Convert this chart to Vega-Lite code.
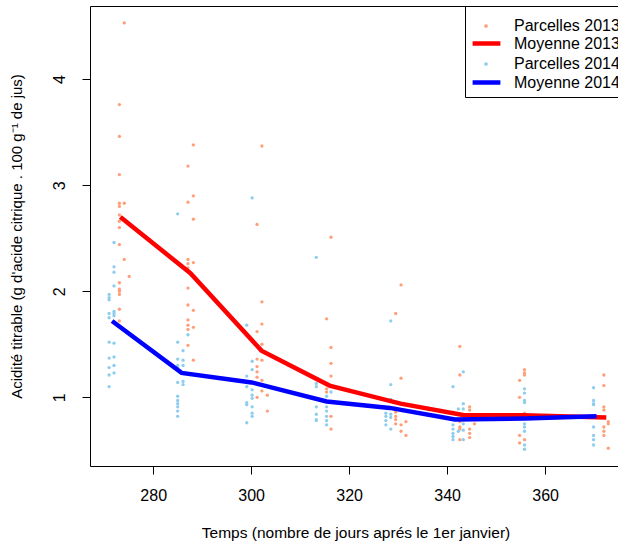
{
  "$schema": "https://vega.github.io/schema/vega-lite/v6.json",
  "width": 531,
  "height": 460,
  "autosize": "none",
  "padding": {"left": 90, "top": 6, "right": 0, "bottom": 80},
  "background": "white",
  "config": {
    "font": "Liberation Sans",
    "view": {"stroke": "#000", "strokeWidth": 1},
    "axis": {"grid": false, "domain": false, "tickColor": "#000", "tickSize": 8, "labelFontSize": 16, "labelColor": "#000", "titleFontSize": 15.5, "titleFontWeight": "normal", "titleColor": "#000", "labelFont": "Liberation Sans", "titleFont": "Liberation Sans"},
    "legend": {"labelFont": "Liberation Sans", "labelFontSize": 16, "labelColor": "#000", "titleFont": "Liberation Sans"}
  },
  "datasets": {
    "pts": [
      {"d": 274.1, "v": 4.53, "s": "Parcelles 2013"}, {"d": 273.1, "v": 3.76, "s": "Parcelles 2013"}, {"d": 273.1, "v": 3.46, "s": "Parcelles 2013"}, {"d": 273.1, "v": 3.10, "s": "Parcelles 2013"}, {"d": 273.1, "v": 2.83, "s": "Parcelles 2013"}, {"d": 273.1, "v": 2.80, "s": "Parcelles 2013"}, {"d": 274.1, "v": 2.83, "s": "Parcelles 2013"}, {"d": 273.1, "v": 2.72, "s": "Parcelles 2013"}, {"d": 273.1, "v": 2.66, "s": "Parcelles 2013"}, {"d": 273.1, "v": 2.60, "s": "Parcelles 2013"}, {"d": 273.1, "v": 2.44, "s": "Parcelles 2013"}, {"d": 274.1, "v": 2.30, "s": "Parcelles 2013"}, {"d": 275.1, "v": 2.14, "s": "Parcelles 2013"}, {"d": 273.1, "v": 2.08, "s": "Parcelles 2013"}, {"d": 273.1, "v": 2.02, "s": "Parcelles 2013"}, {"d": 273.1, "v": 2.00, "s": "Parcelles 2013"}, {"d": 273.1, "v": 1.97, "s": "Parcelles 2013"}, {"d": 273.1, "v": 1.83, "s": "Parcelles 2013"}, {"d": 273.1, "v": 1.72, "s": "Parcelles 2013"},
      {"d": 288.2, "v": 3.38, "s": "Parcelles 2013"}, {"d": 287.1, "v": 3.18, "s": "Parcelles 2013"}, {"d": 288.2, "v": 2.90, "s": "Parcelles 2013"}, {"d": 287.1, "v": 2.84, "s": "Parcelles 2013"}, {"d": 288.2, "v": 2.68, "s": "Parcelles 2013"}, {"d": 287.1, "v": 2.30, "s": "Parcelles 2013"}, {"d": 287.1, "v": 2.26, "s": "Parcelles 2013"}, {"d": 287.1, "v": 2.22, "s": "Parcelles 2013"}, {"d": 288.2, "v": 2.27, "s": "Parcelles 2013"}, {"d": 288.2, "v": 2.14, "s": "Parcelles 2013"}, {"d": 287.1, "v": 2.03, "s": "Parcelles 2013"}, {"d": 287.1, "v": 1.87, "s": "Parcelles 2013"}, {"d": 288.2, "v": 1.82, "s": "Parcelles 2013"}, {"d": 287.1, "v": 1.73, "s": "Parcelles 2013"}, {"d": 287.1, "v": 1.68, "s": "Parcelles 2013"}, {"d": 287.1, "v": 1.64, "s": "Parcelles 2013"}, {"d": 288.2, "v": 1.66, "s": "Parcelles 2013"}, {"d": 287.1, "v": 1.49, "s": "Parcelles 2013"}, {"d": 288.2, "v": 1.35, "s": "Parcelles 2013"},
      {"d": 302.2, "v": 3.37, "s": "Parcelles 2013"}, {"d": 301.2, "v": 2.63, "s": "Parcelles 2013"}, {"d": 302.2, "v": 1.90, "s": "Parcelles 2013"}, {"d": 302.2, "v": 1.69, "s": "Parcelles 2013"}, {"d": 301.2, "v": 1.62, "s": "Parcelles 2013"}, {"d": 302.2, "v": 1.50, "s": "Parcelles 2013"}, {"d": 301.2, "v": 1.36, "s": "Parcelles 2013"}, {"d": 302.2, "v": 1.35, "s": "Parcelles 2013"}, {"d": 301.2, "v": 1.29, "s": "Parcelles 2013"}, {"d": 301.2, "v": 1.24, "s": "Parcelles 2013"}, {"d": 301.2, "v": 1.19, "s": "Parcelles 2013"}, {"d": 302.2, "v": 1.16, "s": "Parcelles 2013"}, {"d": 302.2, "v": 1.06, "s": "Parcelles 2013"}, {"d": 301.2, "v": 1.00, "s": "Parcelles 2013"}, {"d": 303.3, "v": 1.02, "s": "Parcelles 2013"}, {"d": 303.3, "v": 0.87, "s": "Parcelles 2013"},
      {"d": 316.3, "v": 2.51, "s": "Parcelles 2013"}, {"d": 315.4, "v": 1.74, "s": "Parcelles 2013"}, {"d": 316.3, "v": 1.47, "s": "Parcelles 2013"}, {"d": 316.3, "v": 1.32, "s": "Parcelles 2013"}, {"d": 316.3, "v": 1.20, "s": "Parcelles 2013"}, {"d": 315.4, "v": 1.08, "s": "Parcelles 2013"}, {"d": 315.4, "v": 1.05, "s": "Parcelles 2013"}, {"d": 316.3, "v": 0.82, "s": "Parcelles 2013"}, {"d": 316.3, "v": 0.70, "s": "Parcelles 2013"},
      {"d": 330.6, "v": 2.06, "s": "Parcelles 2013"}, {"d": 329.5, "v": 1.79, "s": "Parcelles 2013"}, {"d": 330.6, "v": 1.18, "s": "Parcelles 2013"}, {"d": 329.5, "v": 0.90, "s": "Parcelles 2013"}, {"d": 329.5, "v": 0.86, "s": "Parcelles 2013"}, {"d": 329.5, "v": 0.82, "s": "Parcelles 2013"}, {"d": 329.5, "v": 0.79, "s": "Parcelles 2013"}, {"d": 329.5, "v": 0.75, "s": "Parcelles 2013"}, {"d": 330.6, "v": 0.74, "s": "Parcelles 2013"}, {"d": 330.6, "v": 0.68, "s": "Parcelles 2013"}, {"d": 331.6, "v": 0.77, "s": "Parcelles 2013"}, {"d": 331.6, "v": 0.64, "s": "Parcelles 2013"},
      {"d": 342.6, "v": 1.48, "s": "Parcelles 2013"}, {"d": 342.6, "v": 1.21, "s": "Parcelles 2013"}, {"d": 344.6, "v": 0.91, "s": "Parcelles 2013"}, {"d": 344.6, "v": 0.88, "s": "Parcelles 2013"}, {"d": 342.6, "v": 0.77, "s": "Parcelles 2013"}, {"d": 342.6, "v": 0.72, "s": "Parcelles 2013"}, {"d": 342.6, "v": 0.70, "s": "Parcelles 2013"}, {"d": 344.6, "v": 0.70, "s": "Parcelles 2013"}, {"d": 344.6, "v": 0.66, "s": "Parcelles 2013"}, {"d": 344.6, "v": 0.62, "s": "Parcelles 2013"}, {"d": 345.6, "v": 0.75, "s": "Parcelles 2013"}, {"d": 342.6, "v": 0.60, "s": "Parcelles 2013"},
      {"d": 355.8, "v": 1.26, "s": "Parcelles 2013"}, {"d": 355.8, "v": 1.23, "s": "Parcelles 2013"}, {"d": 355.8, "v": 1.21, "s": "Parcelles 2013"}, {"d": 354.8, "v": 1.16, "s": "Parcelles 2013"}, {"d": 354.8, "v": 1.00, "s": "Parcelles 2013"}, {"d": 355.8, "v": 0.85, "s": "Parcelles 2013"}, {"d": 354.8, "v": 0.64, "s": "Parcelles 2013"}, {"d": 355.8, "v": 0.60, "s": "Parcelles 2013"}, {"d": 354.8, "v": 0.57, "s": "Parcelles 2013"},
      {"d": 372.0, "v": 1.21, "s": "Parcelles 2013"}, {"d": 372.0, "v": 1.11, "s": "Parcelles 2013"}, {"d": 372.0, "v": 0.91, "s": "Parcelles 2013"}, {"d": 372.0, "v": 0.88, "s": "Parcelles 2013"}, {"d": 372.9, "v": 0.77, "s": "Parcelles 2013"}, {"d": 372.9, "v": 0.75, "s": "Parcelles 2013"}, {"d": 372.0, "v": 0.72, "s": "Parcelles 2013"}, {"d": 372.0, "v": 0.68, "s": "Parcelles 2013"}, {"d": 372.0, "v": 0.64, "s": "Parcelles 2013"}, {"d": 372.9, "v": 0.52, "s": "Parcelles 2013"},
      {"d": 272.0, "v": 2.46, "s": "Parcelles 2014"}, {"d": 272.0, "v": 2.23, "s": "Parcelles 2014"}, {"d": 272.0, "v": 2.18, "s": "Parcelles 2014"}, {"d": 272.0, "v": 2.05, "s": "Parcelles 2014"}, {"d": 271.0, "v": 1.97, "s": "Parcelles 2014"}, {"d": 271.0, "v": 1.94, "s": "Parcelles 2014"}, {"d": 271.0, "v": 1.92, "s": "Parcelles 2014"}, {"d": 272.0, "v": 1.81, "s": "Parcelles 2014"}, {"d": 272.0, "v": 1.79, "s": "Parcelles 2014"}, {"d": 272.0, "v": 1.77, "s": "Parcelles 2014"}, {"d": 271.0, "v": 1.79, "s": "Parcelles 2014"}, {"d": 271.0, "v": 1.75, "s": "Parcelles 2014"}, {"d": 271.0, "v": 1.52, "s": "Parcelles 2014"}, {"d": 272.0, "v": 1.51, "s": "Parcelles 2014"}, {"d": 271.0, "v": 1.37, "s": "Parcelles 2014"}, {"d": 272.0, "v": 1.38, "s": "Parcelles 2014"}, {"d": 271.0, "v": 1.28, "s": "Parcelles 2014"}, {"d": 272.0, "v": 1.30, "s": "Parcelles 2014"}, {"d": 271.0, "v": 1.21, "s": "Parcelles 2014"}, {"d": 272.0, "v": 1.23, "s": "Parcelles 2014"}, {"d": 271.0, "v": 1.10, "s": "Parcelles 2014"},
      {"d": 285.0, "v": 2.73, "s": "Parcelles 2014"}, {"d": 287.1, "v": 1.59, "s": "Parcelles 2014"}, {"d": 285.0, "v": 1.52, "s": "Parcelles 2014"}, {"d": 286.1, "v": 1.44, "s": "Parcelles 2014"}, {"d": 285.0, "v": 1.36, "s": "Parcelles 2014"}, {"d": 286.1, "v": 1.35, "s": "Parcelles 2014"}, {"d": 285.0, "v": 1.30, "s": "Parcelles 2014"}, {"d": 286.1, "v": 1.30, "s": "Parcelles 2014"}, {"d": 285.0, "v": 1.28, "s": "Parcelles 2014"}, {"d": 285.0, "v": 1.14, "s": "Parcelles 2014"}, {"d": 286.1, "v": 1.15, "s": "Parcelles 2014"}, {"d": 286.1, "v": 1.12, "s": "Parcelles 2014"}, {"d": 285.0, "v": 1.01, "s": "Parcelles 2014"}, {"d": 285.0, "v": 0.97, "s": "Parcelles 2014"}, {"d": 285.0, "v": 0.94, "s": "Parcelles 2014"}, {"d": 285.0, "v": 0.91, "s": "Parcelles 2014"}, {"d": 285.0, "v": 0.87, "s": "Parcelles 2014"}, {"d": 285.0, "v": 0.82, "s": "Parcelles 2014"},
      {"d": 300.2, "v": 2.88, "s": "Parcelles 2014"}, {"d": 299.1, "v": 1.68, "s": "Parcelles 2014"}, {"d": 300.2, "v": 1.34, "s": "Parcelles 2014"}, {"d": 300.2, "v": 1.26, "s": "Parcelles 2014"}, {"d": 299.1, "v": 1.20, "s": "Parcelles 2014"}, {"d": 299.1, "v": 1.10, "s": "Parcelles 2014"}, {"d": 300.2, "v": 1.07, "s": "Parcelles 2014"}, {"d": 300.2, "v": 1.02, "s": "Parcelles 2014"}, {"d": 300.2, "v": 0.99, "s": "Parcelles 2014"}, {"d": 299.1, "v": 0.95, "s": "Parcelles 2014"}, {"d": 299.1, "v": 0.93, "s": "Parcelles 2014"}, {"d": 300.2, "v": 0.91, "s": "Parcelles 2014"}, {"d": 300.2, "v": 0.85, "s": "Parcelles 2014"}, {"d": 300.2, "v": 0.82, "s": "Parcelles 2014"}, {"d": 299.1, "v": 0.76, "s": "Parcelles 2014"},
      {"d": 313.3, "v": 2.32, "s": "Parcelles 2014"}, {"d": 313.3, "v": 1.13, "s": "Parcelles 2014"}, {"d": 313.3, "v": 1.10, "s": "Parcelles 2014"}, {"d": 313.3, "v": 0.91, "s": "Parcelles 2014"}, {"d": 313.3, "v": 0.84, "s": "Parcelles 2014"}, {"d": 313.3, "v": 0.79, "s": "Parcelles 2014"}, {"d": 313.3, "v": 0.78, "s": "Parcelles 2014"}, {"d": 315.4, "v": 1.01, "s": "Parcelles 2014"}, {"d": 315.4, "v": 0.96, "s": "Parcelles 2014"}, {"d": 315.4, "v": 0.91, "s": "Parcelles 2014"}, {"d": 315.4, "v": 0.87, "s": "Parcelles 2014"}, {"d": 315.4, "v": 0.82, "s": "Parcelles 2014"}, {"d": 315.4, "v": 0.78, "s": "Parcelles 2014"}, {"d": 315.4, "v": 0.74, "s": "Parcelles 2014"}, {"d": 316.3, "v": 1.05, "s": "Parcelles 2014"},
      {"d": 328.5, "v": 1.72, "s": "Parcelles 2014"}, {"d": 328.5, "v": 1.12, "s": "Parcelles 2014"}, {"d": 328.5, "v": 0.98, "s": "Parcelles 2014"}, {"d": 327.5, "v": 0.85, "s": "Parcelles 2014"}, {"d": 327.5, "v": 0.82, "s": "Parcelles 2014"}, {"d": 327.5, "v": 0.78, "s": "Parcelles 2014"}, {"d": 327.5, "v": 0.74, "s": "Parcelles 2014"}, {"d": 328.5, "v": 0.84, "s": "Parcelles 2014"}, {"d": 328.5, "v": 0.81, "s": "Parcelles 2014"}, {"d": 328.5, "v": 0.70, "s": "Parcelles 2014"},
      {"d": 343.3, "v": 1.24, "s": "Parcelles 2014"}, {"d": 341.2, "v": 1.10, "s": "Parcelles 2014"}, {"d": 342.3, "v": 0.89, "s": "Parcelles 2014"}, {"d": 343.3, "v": 0.89, "s": "Parcelles 2014"}, {"d": 343.3, "v": 0.94, "s": "Parcelles 2014"}, {"d": 341.2, "v": 0.86, "s": "Parcelles 2014"}, {"d": 341.2, "v": 0.74, "s": "Parcelles 2014"}, {"d": 341.2, "v": 0.70, "s": "Parcelles 2014"}, {"d": 341.2, "v": 0.66, "s": "Parcelles 2014"}, {"d": 341.2, "v": 0.63, "s": "Parcelles 2014"}, {"d": 342.3, "v": 0.68, "s": "Parcelles 2014"}, {"d": 343.3, "v": 0.75, "s": "Parcelles 2014"}, {"d": 343.3, "v": 0.69, "s": "Parcelles 2014"}, {"d": 343.3, "v": 0.60, "s": "Parcelles 2014"}, {"d": 341.2, "v": 0.60, "s": "Parcelles 2014"},
      {"d": 355.8, "v": 1.08, "s": "Parcelles 2014"}, {"d": 355.8, "v": 1.04, "s": "Parcelles 2014"}, {"d": 355.8, "v": 0.97, "s": "Parcelles 2014"}, {"d": 355.8, "v": 0.95, "s": "Parcelles 2014"}, {"d": 355.8, "v": 0.75, "s": "Parcelles 2014"}, {"d": 355.8, "v": 0.72, "s": "Parcelles 2014"}, {"d": 355.8, "v": 0.68, "s": "Parcelles 2014"}, {"d": 355.8, "v": 0.55, "s": "Parcelles 2014"}, {"d": 355.8, "v": 0.51, "s": "Parcelles 2014"},
      {"d": 369.9, "v": 1.09, "s": "Parcelles 2014"}, {"d": 369.9, "v": 0.97, "s": "Parcelles 2014"}, {"d": 369.9, "v": 0.94, "s": "Parcelles 2014"}, {"d": 369.9, "v": 0.93, "s": "Parcelles 2014"}, {"d": 369.9, "v": 0.72, "s": "Parcelles 2014"}, {"d": 369.9, "v": 0.64, "s": "Parcelles 2014"}, {"d": 369.9, "v": 0.60, "s": "Parcelles 2014"}, {"d": 369.9, "v": 0.55, "s": "Parcelles 2014"}
    ],
    "means": [
      {"d": 273.3, "v": 2.70, "s": "Moyenne 2013"}, {"d": 287.6, "v": 2.17, "s": "Moyenne 2013"}, {"d": 302.1, "v": 1.44, "s": "Moyenne 2013"}, {"d": 316.0, "v": 1.11, "s": "Moyenne 2013"}, {"d": 330.5, "v": 0.94, "s": "Moyenne 2013"}, {"d": 343.5, "v": 0.83, "s": "Moyenne 2013"}, {"d": 355.5, "v": 0.83, "s": "Moyenne 2013"}, {"d": 372.5, "v": 0.81, "s": "Moyenne 2013"},
      {"d": 271.6, "v": 1.72, "s": "Moyenne 2014"}, {"d": 285.8, "v": 1.23, "s": "Moyenne 2014"}, {"d": 300.1, "v": 1.14, "s": "Moyenne 2014"}, {"d": 315.4, "v": 0.96, "s": "Moyenne 2014"}, {"d": 328.3, "v": 0.90, "s": "Moyenne 2014"}, {"d": 341.6, "v": 0.79, "s": "Moyenne 2014"}, {"d": 355.8, "v": 0.80, "s": "Moyenne 2014"}, {"d": 370.5, "v": 0.82, "s": "Moyenne 2014"}
    ]
  },
  "encoding": {
    "x": {"field": "d", "type": "quantitative", "scale": {"domain": [267.1, 375.5], "nice": false, "zero": false},
      "axis": {"values": [280, 300, 320, 340, 360], "title": "Temps (nombre de jours aprés le 1er janvier)", "labelPadding": 13, "titlePadding": 22}},
    "y": {"field": "v", "type": "quantitative", "scale": {"domain": [0.352, 4.69], "nice": false, "zero": false},
      "axis": {"values": [1, 2, 3, 4], "title": "Acidité titrable (g d'acide citrique . 100 g⁻¹ de jus)", "titleFontSize": 15, "labelAngle": -90, "labelAlign": "center", "labelBaseline": "bottom", "labelPadding": 15, "titlePadding": 27}}
  },
  "layer": [
    {"data": {"name": "means"}, "mark": {"type": "line", "strokeWidth": 0, "opacity": 0},
      "encoding": {"stroke": {"field": "s", "type": "nominal",
        "scale": {"domain": ["Moyenne 2013", "Moyenne 2014"], "range": ["#FF0000", "#0000FF"]},
        "legend": {"orient": "none", "legendX": 375, "legendY": 0, "title": " ", "titleFontSize": 15, "titlePadding": 1, "padding": 5, "strokeColor": "#000", "labelOffset": 11, "rowPadding": 13, "symbolType": "stroke", "symbolSize": 772, "symbolStrokeWidth": 4.5, "symbolOpacity": 1}}}},
    {"data": {"name": "pts"}, "mark": {"type": "point", "filled": true, "size": 11, "opacity": 1},
      "encoding": {"color": {"field": "s", "type": "nominal",
        "scale": {"domain": ["Parcelles 2013", "Parcelles 2014"], "range": ["#FF9F7A", "#8ECDEE"]},
        "legend": {"orient": "none", "legendX": 388, "legendY": 12, "title": null, "padding": 0, "labelOffset": 20, "rowPadding": 22, "symbolType": "circle", "symbolSize": 14, "symbolOpacity": 1}}}},
    {"data": {"name": "means"}, "mark": {"type": "line", "strokeWidth": 4.5},
      "encoding": {"stroke": {"field": "s", "type": "nominal", "legend": null}}}
  ]
}
